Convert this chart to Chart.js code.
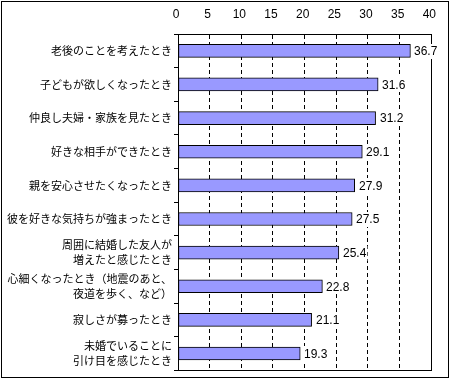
<!DOCTYPE html>
<html>
<head>
<meta charset="utf-8">
<script src="https://cdn.jsdelivr.net/npm/chart.js@4"></script>
<style>
  html, body { margin: 0; padding: 0; background: #fff; }
  #wrap { width: 450px; height: 380px; }
</style>
</head>
<body>
<div id="wrap"><canvas id="c" width="450" height="380"></canvas></div>
<script>
const categories = [
  "老後のことを考えたとき",
  "子どもが欲しくなったとき",
  "仲良し夫婦・家族を見たとき",
  "好きな相手ができたとき",
  "親を安心させたくなったとき",
  "彼を好きな気持ちが強まったとき",
  ["周囲に結婚した友人が", "増えたと感じたとき"],
  ["心細くなったとき（地震のあと、", "夜道を歩く、など）"],
  "寂しさが募ったとき",
  ["未婚でいることに", "引け目を感じたとき"]
];
const values = [36.7, 31.6, 31.2, 29.1, 27.9, 27.5, 25.4, 22.8, 21.1, 19.3];
const xTicks = [0, 5, 10, 15, 20, 25, 30, 35, 40];

const frame = {
  id: 'frame',
  beforeDatasetsDraw(chart) {
    const ctx = chart.ctx, a = chart.chartArea;
    ctx.save();
    ctx.strokeStyle = '#000';
    ctx.lineWidth = 1;
    ctx.setLineDash([]);
    ctx.strokeRect(Math.round(a.left) + 0.5, Math.round(a.top) + 0.5,
                   Math.round(a.right - a.left), Math.round(a.bottom - a.top));
    ctx.restore();
  },
  afterDraw(chart) {
    const ctx = chart.ctx;
    ctx.save();
    ctx.strokeStyle = '#000';
    ctx.lineWidth = 1;
    ctx.setLineDash([]);
    ctx.strokeRect(1.5, 1.5, 447, 376);
    ctx.restore();
  }
};

const valueLabels = {
  id: 'valueLabels',
  afterDatasetsDraw(chart) {
    const ctx = chart.ctx;
    const meta = chart.getDatasetMeta(0);
    ctx.save();
    ctx.font = '12px "Liberation Sans", Arial, sans-serif';
    ctx.textAlign = 'left';
    ctx.textBaseline = 'middle';
    meta.data.forEach((bar, i) => {
      const txt = values[i].toFixed(1);
      const w = ctx.measureText(txt).width;
      const x = Math.round(bar.x) + 2;
      ctx.fillStyle = '#fff';
      ctx.fillRect(x, Math.round(bar.y) - 7, w + 3, 15);
      ctx.fillStyle = '#000';
      ctx.fillText(txt, x + 2, bar.y + 1);
    });
    ctx.restore();
  }
};

new Chart(document.getElementById('c'), {
  type: 'bar',
  data: {
    labels: categories,
    datasets: [{
      data: values,
      backgroundColor: '#9999FF',
      borderColor: '#000',
      borderWidth: 1,
      borderSkipped: false,
      barThickness: 13
    }]
  },
  options: {
    indexAxis: 'y',
    responsive: false,
    animation: false,
    layout: { padding: { left: 0, top: 0, right: 17, bottom: 7 } },
    plugins: { legend: { display: false }, tooltip: { enabled: false } },
    scales: {
      x: {
        position: 'top',
        min: 0,
        max: 40,
        afterBuildTicks(scale) { scale.ticks = xTicks.map(v => ({ value: v })); },
        afterFit(scale) { scale.height = 34; },
        ticks: {
          color: '#000',
          font: { family: '"Liberation Sans", Arial, sans-serif', size: 12 },
          padding: 12,
          labelOffset: -2
        },
        grid: { color: '#000', lineWidth: 1, drawTicks: false },
        border: { display: true, color: '#000', dash: [4, 3] }
      },
      y: {
        afterFit(scale) { scale.width = 178; },
        ticks: {
          color: '#000',
          autoSkip: false,
          font: { family: '"Noto Sans CJK JP", sans-serif', size: 11, lineHeight: 1.4 },
          padding: 2
        },
        grid: { offset: true, drawOnChartArea: false, drawTicks: true, tickLength: 4, color: '#000' },
        border: { display: true, color: '#000' }
      }
    }
  },
  plugins: [frame, valueLabels]
});
</script>
</body>
</html>
